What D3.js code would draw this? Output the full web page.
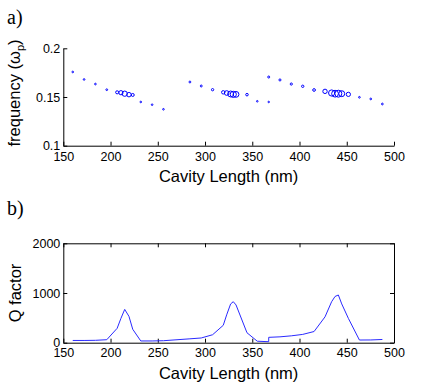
<!DOCTYPE html>
<html>
<head>
<meta charset="utf-8">
<script src="https://cdn.jsdelivr.net/npm/d3@7/dist/d3.min.js"></script>
<style>
  html, body { margin: 0; padding: 0; background: #fff; }
  svg { display: block; }
  .tick text { font-family: "Liberation Sans", Arial, sans-serif; font-size: 12.5px; fill: #000; }
  .lbl { font-family: "Liberation Sans", Arial, sans-serif; font-size: 16.5px; fill: #000; }
  .panel { font-family: "Liberation Serif", "Times New Roman", serif; font-size: 20px; fill: #000; }
</style>
</head>
<body>
<svg id="chart" width="436" height="386"></svg>
<script>
// Cavity length (nm) of each computed mode
const cavityLength = [160, 172, 184, 196, 207, 211, 215, 219.5, 223.5, 232, 244, 256,
  284, 296, 308, 319.3, 322.9, 327.1, 329.9, 332.8, 344.4, 355.3, 367.4,
  367.4, 379.3, 391.3, 403.4, 415.4, 427, 434, 437.6, 441.1, 444.7, 451.7, 463.4, 475.4, 487.7];
// Mode frequency (units of omega_p)
const frequency = [0.1757, 0.168, 0.1633, 0.1575, 0.1548, 0.1544, 0.1534, 0.1524, 0.1521, 0.1449, 0.1421, 0.1374,
  0.1654, 0.1613, 0.1575, 0.1548, 0.1541, 0.1531, 0.1527, 0.1527, 0.1524, 0.1456, 0.1449,
  0.1705, 0.1675, 0.1633, 0.161, 0.1572, 0.1558, 0.1541, 0.1534, 0.1534, 0.1534, 0.1527, 0.1497, 0.148, 0.1428];
// Q factor of each mode
const qFactor = [45, 45, 48, 60, 290, 490, 670, 530, 270, 35, 35, 40,
  78, 95, 160, 350, 560, 780, 825, 760, 200, 30, 20,
  108, 118, 138, 167, 225, 520, 825, 930, 960, 780, 490, 54, 55, 65];

const xTicks = [150, 200, 250, 300, 350, 400, 450, 500];
const freqTicks = [0.1, 0.15, 0.2];
const qTicks = [0, 1000, 2000];

const data = cavityLength.map((L, i) => ({ L, f: frequency[i], q: qFactor[i] }));

const svg = d3.select("#chart");
const left = 63.3, right = 394;

const x = d3.scaleLinear().domain([150, 500]).range([left, right]);
const yF = d3.scaleLinear().domain([0.1, 0.2]).range([145.7, 48.3]);
const yQ = d3.scaleLinear().domain([0, 2000]).range([342.7, 243.3]);
const r = d3.scaleLinear().domain([0, 1000]).range([0.7, 3.6]);

function styleAxis(g) {
  g.selectAll("path.domain").attr("stroke", "#000").attr("stroke-width", 1);
  g.selectAll(".tick line").attr("stroke", "#000").attr("stroke-width", 1);
}

// ---------- Panel a ----------
const gA = svg.append("g");
gA.append("g").attr("transform", `translate(0,${yF(0.1)})`)
  .call(d3.axisBottom(x).tickValues(xTicks).tickFormat(d => d).tickSizeInner(-4).tickSizeOuter(0).tickPadding(6))
  .call(styleAxis);
gA.append("g").attr("transform", `translate(${left},0)`)
  .call(d3.axisLeft(yF).tickValues(freqTicks).tickFormat(d => String(d)).tickSizeInner(-4).tickSizeOuter(0).tickPadding(3))
  .call(styleAxis);

gA.selectAll("circle.mode").data(data).join("circle")
  .attr("class", "mode")
  .attr("cx", d => x(d.L))
  .attr("cy", d => yF(d.f))
  .attr("r", d => r(d.q))
  .attr("fill", "none")
  .attr("stroke", "#0000ff")
  .attr("stroke-width", 1);

gA.append("text").attr("class", "lbl").attr("text-anchor", "middle")
  .attr("x", (left + right) / 2).attr("y", 182).text("Cavity Length (nm)");
const yl = gA.append("text").attr("class", "lbl").attr("text-anchor", "middle")
  .attr("transform", `translate(20,${(yF(0.1) + yF(0.2)) / 2 - 4}) rotate(-90)`);
yl.append("tspan").text("frequency (\u03C9");
yl.append("tspan").attr("dy", 4).attr("font-size", "11px").text("p");
yl.append("tspan").attr("dy", -4).text(")");
svg.append("text").attr("class", "panel").attr("x", 7).attr("y", 24).text("a)");

// ---------- Panel b ----------
const gB = svg.append("g");
gB.append("g").attr("transform", `translate(0,${yQ(0)})`)
  .call(d3.axisBottom(x).tickValues(xTicks).tickFormat(d => d).tickSizeInner(-4).tickSizeOuter(0).tickPadding(5))
  .call(styleAxis);
gB.append("g").attr("transform", `translate(0,${yQ(2000)})`)
  .call(d3.axisTop(x).tickValues(xTicks).tickFormat("").tickSizeInner(-4).tickSizeOuter(0))
  .call(styleAxis);
gB.append("g").attr("transform", `translate(${left},0)`)
  .call(d3.axisLeft(yQ).tickValues(qTicks).tickFormat(d => d).tickSizeInner(-4).tickSizeOuter(0).tickPadding(3))
  .call(styleAxis);
gB.append("g").attr("transform", `translate(${right},0)`)
  .call(d3.axisRight(yQ).tickValues(qTicks).tickFormat("").tickSizeInner(-4).tickSizeOuter(0))
  .call(styleAxis);

gB.append("path").datum(data)
  .attr("fill", "none")
  .attr("stroke", "#2a2aff")
  .attr("stroke-width", 1)
  .attr("d", d3.line().x(d => x(d.L)).y(d => yQ(d.q)));

gB.append("text").attr("class", "lbl").attr("text-anchor", "middle")
  .attr("x", (left + right) / 2).attr("y", 379).text("Cavity Length (nm)");
gB.append("text").attr("class", "lbl").attr("text-anchor", "middle")
  .attr("transform", `translate(21,${(yQ(0) + yQ(2000)) / 2}) rotate(-90)`).text("Q factor");
svg.append("text").attr("class", "panel").attr("x", 7).attr("y", 215).text("b)");
</script>
</body>
</html>
